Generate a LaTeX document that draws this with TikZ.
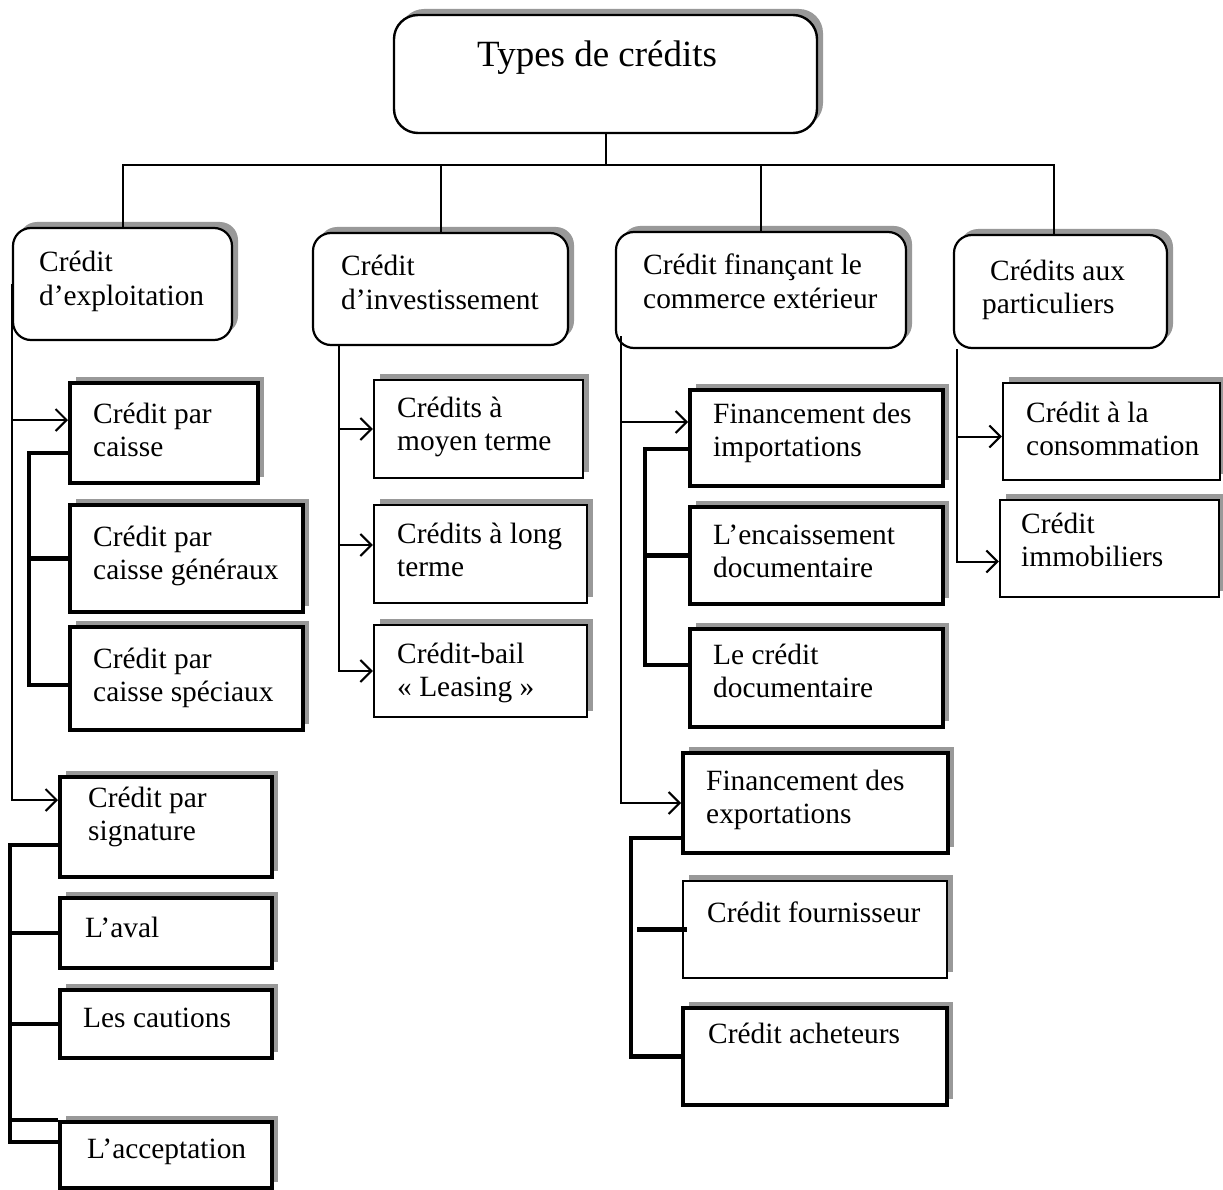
\documentclass[tikz,border=0pt]{standalone}
\usepackage{fontspec}
\setmainfont{Liberation Serif}
\usetikzlibrary{arrows.meta,shadows}
\newcommand{\boxtext}[1]{\begin{tabular}[t]{@{}l@{}}#1\end{tabular}}
\begin{document}
\begin{tikzpicture}[x=1pt, y=-1pt,
  sh/.style={drop shadow={shadow xshift=6pt, shadow yshift=6pt, fill=black!40, opacity=1}},
  titlebox/.style={draw, rounded corners=24pt, line width=2.4pt, sh, fill=white, inner sep=0},
  main/.style={draw, rounded corners=18pt, line width=2.2pt, sh, fill=white, inner sep=0},
  thickbox/.style={draw, line width=4pt, sh, fill=white, inner sep=0},
  thinbox/.style={draw, line width=2.4pt, sh, fill=white, inner sep=0},
  txt/.style={anchor=base west, inner sep=0, font=\fontsize{29.4}{33.5}\selectfont},
  conn/.style={line width=2pt},
  arr/.style={line width=2pt, -{Straight Barb[length=11pt, width=22pt, line width=2pt]}},
  brk/.style={line width=4.5pt}]
\useasboundingbox (0,0) rectangle (1223,1190);

\node[titlebox, minimum width=423, minimum height=118] (title) at (605.5,74) {};
\node[txt, font=\fontsize{37}{42}\selectfont] (title-t) at (477,67) {Types de crédits};

\node[main, minimum width=219, minimum height=112] (expl) at (122.5,284) {};
\node[main, minimum width=255, minimum height=112] (inv) at (440.5,289) {};
\node[main, minimum width=290, minimum height=116] (fin) at (761,290) {};
\node[main, minimum width=213, minimum height=113] (part) at (1060.5,291.5) {};
\node[txt] (expl-t) at (39,272) {\boxtext{Crédit\\d’exploitation}};
\node[txt] (inv-t) at (341,276) {\boxtext{Crédit\\d’investissement}};
\node[txt] (fin-t) at (643,275) {\boxtext{Crédit finançant le\\commerce extérieur}};
\node[txt] (part-t) at (982,280) {\boxtext{\hspace{8pt}Crédits aux\\particuliers}};

\node[thickbox, minimum width=188, minimum height=100] (caisse) at (164,433) {};
\node[thickbox, minimum width=233, minimum height=107] (gen) at (186.5,558.5) {};
\node[thickbox, minimum width=233, minimum height=103] (spec) at (186.5,678.5) {};
\node[thickbox, minimum width=212, minimum height=100] (sig) at (166,827) {};
\node[thickbox, minimum width=212, minimum height=70] (aval) at (166,933) {};
\node[thickbox, minimum width=212, minimum height=68] (caut) at (166,1024) {};
\node[thickbox, minimum width=212, minimum height=66] (acc) at (166,1155) {};
\node[txt] (caisse-t) at (93,423) {\boxtext{Crédit par\\caisse}};
\node[txt] (gen-t) at (93,546) {\boxtext{Crédit par\\caisse généraux}};
\node[txt] (spec-t) at (93,668) {\boxtext{Crédit par\\caisse spéciaux}};
\node[txt] (sig-t) at (88,807) {\boxtext{Crédit par\\signature}};
\node[txt] (aval-t) at (85,937) {L’aval};
\node[txt] (caut-t) at (83,1027) {Les cautions};
\node[txt] (acc-t) at (87,1158) {L’acceptation};

\node[thinbox, minimum width=209, minimum height=98] (moyen) at (478.5,429) {};
\node[thinbox, minimum width=213, minimum height=98] (long) at (480.5,554) {};
\node[thinbox, minimum width=213, minimum height=92] (bail) at (480.5,671) {};
\node[txt] (moyen-t) at (397,417) {\boxtext{Crédits à\\moyen terme}};
\node[txt] (long-t) at (397,543) {\boxtext{Crédits à long\\terme}};
\node[txt] (bail-t) at (397,663) {\boxtext{Crédit-bail\\« Leasing »}};

\node[thickbox, minimum width=253, minimum height=96] (imp) at (816.5,438) {};
\node[thickbox, minimum width=253, minimum height=97] (enc) at (816.5,555.5) {};
\node[thickbox, minimum width=253, minimum height=98] (ldoc) at (816.5,678) {};
\node[thickbox, minimum width=265, minimum height=100] (exp) at (815.5,803) {};
\node[thinbox, minimum width=264, minimum height=97] (four) at (815,929.5) {};
\node[thickbox, minimum width=264, minimum height=97] (ach) at (815,1056.5) {};
\node[txt] (imp-t) at (713,423) {\boxtext{Financement des\\importations}};
\node[txt] (enc-t) at (713,544) {\boxtext{L’encaissement\\documentaire}};
\node[txt] (ldoc-t) at (713,664) {\boxtext{Le crédit\\documentaire}};
\node[txt] (exp-t) at (706,790) {\boxtext{Financement des\\exportations}};
\node[txt] (four-t) at (707,922) {Crédit fournisseur};
\node[txt] (ach-t) at (708,1043) {Crédit acheteurs};

\node[thinbox, minimum width=217, minimum height=97] (conso) at (1111.5,431.5) {};
\node[thinbox, minimum width=219, minimum height=97] (immo) at (1109.5,548.5) {};
\node[txt] (conso-t) at (1026,422) {\boxtext{Crédit à la\\consommation}};
\node[txt] (immo-t) at (1021,533) {\boxtext{Crédit\\immobiliers}};

\coordinate (bus) at (603,165);
\draw[conn] (title.south) -- (title.south |- bus);
\draw[conn] (expl.north) |- (bus) -| ([xshift=-7pt]part.north);
\draw[conn] (inv.north) -- (inv.north |- bus);
\draw[conn] (fin.north) -- (fin.north |- bus);

\draw[arr] (expl.west) |- ([yshift=13pt]caisse.west);
\draw[arr] (expl.west) |- ([yshift=27pt]sig.west);
\draw[brk] ([yshift=-20pt]caisse.west) -| ([xshift=-39pt,yshift=-6.5pt]spec.west) -- ([yshift=-6.5pt]spec.west);
\draw[brk] (gen.west) -- ++(-39,0);
\draw[brk] ([yshift=-18pt]sig.west) -| ([xshift=-48pt,yshift=13pt]acc.west) -- ([yshift=13pt]acc.west);
\draw[brk] (aval.west) -- ++(-48,0);
\draw[brk] (caut.west) -- ++(-48,0);
\draw[brk] (acc.north west) -- ++(-48,0);

\coordinate (invstem) at ([xshift=27pt]inv.south west);
\draw[arr] (invstem) |- (moyen.west);
\draw[arr] (invstem) |- ([yshift=9pt]long.west);
\draw[arr] (invstem) |- (bail.west);

\coordinate (finstem) at ([xshift=6pt,yshift=13pt]fin.south west);
\draw[arr] (finstem) |- ([yshift=16pt]imp.west);
\draw[arr] (finstem) |- (exp.west);
\draw[brk] ([yshift=-11pt]imp.west) -| ([xshift=-43pt,yshift=13pt]ldoc.west) -- ([yshift=13pt]ldoc.west);
\draw[brk] (enc.west) -- ++(-43,0);
\draw[brk] ([yshift=-35pt]exp.west) -| ([xshift=-50pt]ach.west) -- (ach.west);
\draw[brk] ([xshift=5pt]four.west) -- ++(-50,0);

\coordinate (partstem) at ([xshift=4pt]part.south west);
\draw[arr] (partstem) |- ([yshift=-5pt]conso.west);
\draw[arr] (partstem) |- ([yshift=-13pt]immo.west);
\end{tikzpicture}
\end{document}
